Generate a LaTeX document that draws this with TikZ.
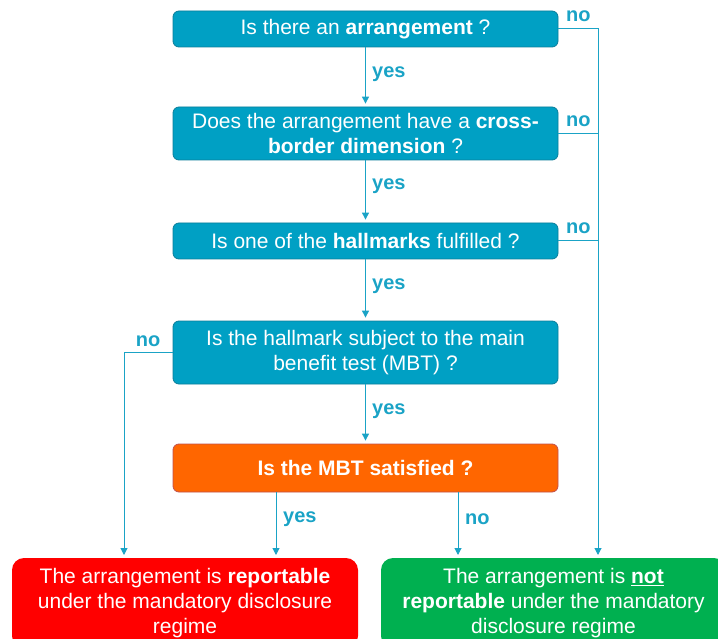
\documentclass[tikz,border=0pt]{standalone}
\usepackage{fontspec}
\setmainfont{Liberation Sans}
\usetikzlibrary{arrows.meta,calc}
\definecolor{qfill}{HTML}{00A0C4}
\definecolor{qdraw}{HTML}{0A7E9A}
\definecolor{lnk}{HTML}{1AA3C6}
\definecolor{ofill}{HTML}{FF6600}
\definecolor{odraw}{HTML}{C0504D}
\definecolor{rfill}{HTML}{FF0000}
\definecolor{gfill}{HTML}{00B050}
\tikzset{
  qbox/.style={draw=qdraw, fill=qfill, rounded corners=6pt, text=white, minimum width=385pt,
    align=center, font=\fontsize{21}{25}\selectfont, inner sep=0pt, line width=0.8pt},
  obox/.style={qbox, draw=odraw, fill=ofill},
  rbox/.style={rounded corners=12pt, text=white, align=center, inner sep=0pt,
    font=\fontsize{21}{25}\selectfont},
  lbl/.style={text=lnk, font=\fontsize{20}{22}\selectfont\bfseries, inner sep=0pt},
  conn/.style={draw=lnk, line width=1pt},
  arr/.style={conn, -{Triangle[width=7pt,length=7pt]}, shorten >=3pt},
}
\begin{document}
\begin{tikzpicture}[x=1pt,y=-1pt]
\useasboundingbox (0,0) rectangle (718,639);
\clip (0,0) rectangle (718,639);
\node[qbox, minimum height=36pt] (b1) at (365.5,29) {Is there an \textbf{arrangement} ?};
\node[qbox, minimum height=53pt] (b2) at (365.5,133.5) {Does the arrangement have a \textbf{cross-}\\ \textbf{border dimension} ?};
\node[qbox, minimum height=36pt] (b3) at (365.5,241) {Is one of the \textbf{hallmarks} fulfilled ?};
\node[qbox, minimum height=63pt] (b4) at (365.5,352.5) {Is the hallmark subject to the main\\ benefit test (MBT) ?};
\node[obox, minimum height=48pt] (b5) at (365.5,468) {\textbf{Is the MBT satisfied ?}};
\node[rbox, fill=rfill, minimum width=346pt, minimum height=90pt] (red) at (185,603)
  {The arrangement is \textbf{reportable}\\ under the mandatory disclosure\\ regime};
\node[rbox, fill=gfill, minimum width=345pt, minimum height=90pt] (green) at (553.5,603)
  {The arrangement is \textbf{\underline{not}}\\ \textbf{reportable} under the mandatory\\ disclosure regime};

\coordinate (rl) at (124,558);
\coordinate (ry) at (276,558);
\coordinate (gn) at (458,558);
\coordinate (gr) at (598,558);

\draw[arr] (b1) -- (b2);
\draw[arr] (b2) -- (b3);
\draw[arr] (b3) -- (b4);
\draw[arr] (b4) -- (b5);
\draw[arr] (b1.east) -| (gr);
\draw[conn] (b2.east) -- (b2.east -| gr);
\draw[conn] (b3.east) -- (b3.east -| gr);
\draw[arr] (b4.west) -| (rl);
\draw[arr] (b5.south -| ry) -- (ry);
\draw[arr] (b5.south -| gn) -- (gn);

\node[lbl, anchor=west] (n1) at (566,16) {no};
\node[lbl, anchor=west] (n2) at (566,121) {no};
\node[lbl, anchor=west] (n3) at (566,228) {no};
\node[lbl] (n4) at (148,341) {no};
\node[lbl, anchor=west] (y1) at (372,74) {yes};
\node[lbl, anchor=west] (y2) at (372,186) {yes};
\node[lbl, anchor=west] (y3) at (372,286) {yes};
\node[lbl, anchor=west] (y4) at (372,411) {yes};
\node[lbl, anchor=west] (y5) at (283,519) {yes};
\node[lbl, anchor=west] (n5) at (465,519) {no};
\end{tikzpicture}
\end{document}
